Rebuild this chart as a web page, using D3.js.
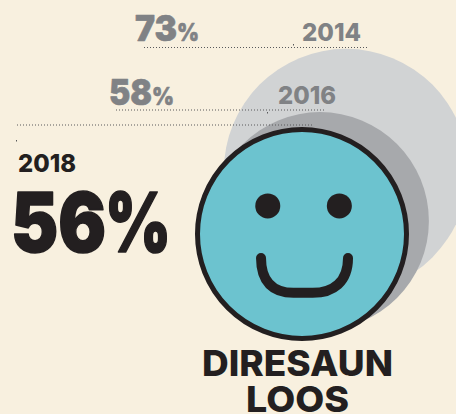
<!DOCTYPE html>
<html><head><meta charset="utf-8">
<script src="https://cdn.jsdelivr.net/npm/d3@7/dist/d3.min.js"></script>
<style>html,body{margin:0;padding:0;background:#f8f0df;overflow:hidden}svg{display:block}text{font-family:Inter,sans-serif}</style>
</head><body><svg id="c" width="456" height="414"></svg>
<script>
const years = ["2014","2016","2018"];
const values = [73,58,56];
const titleLines = ["DIRESAUN","LOOS"];

const W=456,H=414;
const svg=d3.select("#c");
svg.append("rect").attr("width",W).attr("height",H).attr("fill","#f8f0df");
const r=d3.scaleSqrt().domain([0,56]).range([0,107]);
const layout=[
 {cx:346,cy:171,fill:"#d1d3d4",txt:"#808285",yr:{x:302,y:41,w:59,fs:25},num:{x:135,y:41,w:42,fs:36,sw:.6},pc:{w:22,fs:25,dx:0},rule:{x1:144,x2:367,y:47.5},dot:[293,44]},
 {cx:320,cy:221,fill:"#a7a9ac",txt:"#808285",yr:{x:278,y:104,w:58,fs:25},num:{x:109,y:104.5,w:43,fs:36,sw:.6},pc:{w:22,fs:25,dx:0},rule:{x1:116,x2:325,y:110},dot:[267,112]},
 {cx:302,cy:234,fill:"#6cc3cf",txt:"#231f20",yr:{x:18,y:171.5,w:58,fs:25},num:{x:11,y:252,w:95,fs:82,sw:1.6},pc:{w:66,fs:82,dx:-1},rule:{x1:17,x2:312,y:125},dot:[16,140]}
];
const data=years.map((y,i)=>({year:y,value:values[i],...layout[i]}));

svg.selectAll("circle.bubble").data(data).join("circle").attr("class","bubble")
 .attr("cx",d=>d.cx).attr("cy",d=>d.cy)
 .attr("r",(d,i)=>i===2?r(d.value)-2.5:r(d.value))
 .attr("fill",d=>d.fill)
 .attr("stroke",(d,i)=>i===2?"#231f20":"none").attr("stroke-width",5);

svg.selectAll("line.rule").data(data).join("line").attr("class","rule")
 .attr("x1",d=>d.rule.x1).attr("x2",d=>d.rule.x2).attr("y1",d=>d.rule.y).attr("y2",d=>d.rule.y)
 .attr("stroke","#58595b").attr("stroke-width",1).attr("stroke-dasharray","1 2");
svg.selectAll("rect.tick").data(data).join("rect").attr("class","tick")
 .attr("x",d=>d.dot[0]).attr("y",d=>d.dot[1]).attr("width",1).attr("height",1.5).attr("fill","#58595b");

function fit(sel,w){sel.attr("textLength",w).attr("lengthAdjust","spacingAndGlyphs");}
svg.selectAll("text.yr").data(data).join("text").attr("class","yr")
 .attr("x",d=>d.yr.x).attr("y",d=>d.yr.y).attr("font-size",d=>d.yr.fs).attr("font-weight",800)
 .attr("fill",d=>d.txt).text(d=>d.year).each(function(d){fit(d3.select(this),d.yr.w)});
const nums=svg.selectAll("text.num").data(data).join("text").attr("class","num")
 .attr("x",d=>d.num.x).attr("y",d=>d.num.y).attr("font-weight",900).attr("fill",d=>d.txt)
 .attr("stroke",d=>d.txt).attr("stroke-width",d=>d.num.sw).attr("stroke-linejoin","round");
nums.append("tspan").attr("font-size",d=>d.num.fs).text(d=>d.value)
 .each(function(d){fit(d3.select(this),d.num.w)});
nums.append("tspan").attr("font-size",d=>d.pc.fs).attr("dx",d=>d.pc.dx).text("%")
 .each(function(d){fit(d3.select(this),d.pc.w)});

// face, proportioned from the radius of the 2018 circle
const f=data[2], R=r(f.value), g=svg.append("g").attr("transform",`translate(${f.cx},${f.cy})`);
g.selectAll("circle.eye").data([-.32,.349]).join("circle").attr("class","eye")
 .attr("cx",s=>s*R).attr("cy",-.262*R).attr("r",.117*R).attr("fill","#231f20");
const lift=d3.path();
lift.moveTo(-.383*R,.224*R);
lift.bezierCurveTo(-.383*R,.45*R,-.27*R,.55*R,-.08*R,.55*R);
lift.lineTo(.1*R,.55*R);
lift.bezierCurveTo(.29*R,.55*R,.43*R,.45*R,.43*R,.224*R);
g.append("path").attr("d",lift.toString()).attr("fill","none").attr("stroke","#231f20")
 .attr("stroke-width",10).attr("stroke-linecap","round");

const tl=[{x:202,y:376,w:191},{x:246,y:412,w:103}];
svg.selectAll("text.ti").data(titleLines).join("text").attr("class","ti")
 .attr("x",(d,i)=>tl[i].x).attr("y",(d,i)=>tl[i].y).attr("font-size",36).attr("font-weight",800)
 .attr("fill","#231f20").text(d=>d).each(function(d,i){fit(d3.select(this),tl[i].w)});
</script></body></html>
